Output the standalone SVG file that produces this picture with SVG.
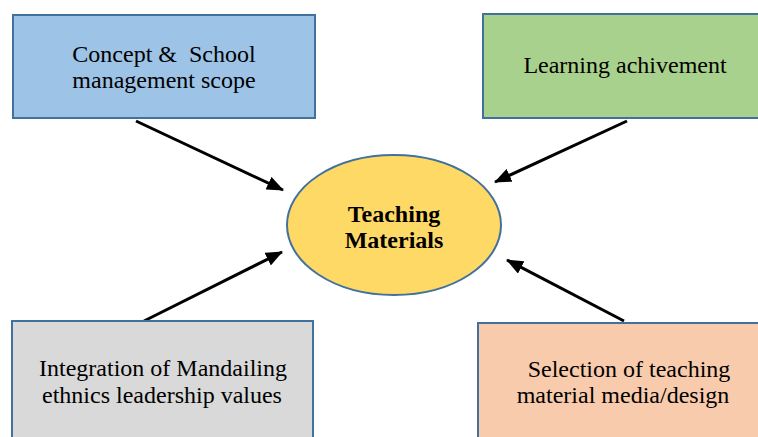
<svg xmlns="http://www.w3.org/2000/svg" width="758" height="437" viewBox="0 0 758 437">
  <style>
    .box { stroke: #41719C; stroke-width: 2; }
    .lbl { font-family: "Liberation Serif", "Times New Roman", serif; font-size: 24px; fill: #000; text-anchor: middle; white-space: pre; }
    .core { font-family: "Liberation Serif", "Times New Roman", serif; font-size: 24px; font-weight: bold; fill: #000; text-anchor: middle; }
    .link { stroke: #000; stroke-width: 3; fill: none; marker-end: url(#head); }
  </style>
  <defs>
    <marker id="head" markerUnits="userSpaceOnUse" markerWidth="18" markerHeight="14" refX="16" refY="7" orient="auto">
      <path d="M0,0 L17,7 L0,14 Z" fill="#000"/>
    </marker>
  </defs>
  <rect width="758" height="437" fill="#fff"/>

  <g id="connectors">
    <line class="link" x1="136" y1="121" x2="283" y2="190"/>
    <line class="link" x1="627" y1="121" x2="495" y2="182"/>
    <line class="link" x1="144" y1="321" x2="282" y2="252"/>
    <line class="link" x1="624" y1="321" x2="507" y2="260"/>
  </g>

  <g id="concept">
    <rect class="box" x="13" y="15" width="302" height="103" fill="#9DC3E6"/>
    <text class="lbl" x="164" y="62" xml:space="preserve">Concept &amp;  School</text>
    <text class="lbl" x="164" y="88">management scope</text>
  </g>

  <g id="learning">
    <rect class="box" x="483" y="14" width="285" height="104" fill="#A9D18E"/>
    <text class="lbl" x="625" y="73">Learning achivement</text>
  </g>

  <g id="integration">
    <rect class="box" x="12" y="321" width="301" height="130" fill="#D9D9D9"/>
    <text class="lbl" x="163" y="376">Integration of Mandailing</text>
    <text class="lbl" x="162" y="403">ethnics leadership values</text>
  </g>

  <g id="selection">
    <rect class="box" x="478" y="323" width="290" height="130" fill="#F8CBAD"/>
    <text class="lbl" x="629" y="377">Selection of teaching</text>
    <text class="lbl" x="623" y="403">material media/design</text>
  </g>

  <g id="teaching-materials">
    <ellipse class="box" cx="394" cy="225" rx="107" ry="70" fill="#FFD966"/>
    <text class="core" x="394" y="222">Teaching</text>
    <text class="core" x="394" y="248">Materials</text>
  </g>
</svg>
